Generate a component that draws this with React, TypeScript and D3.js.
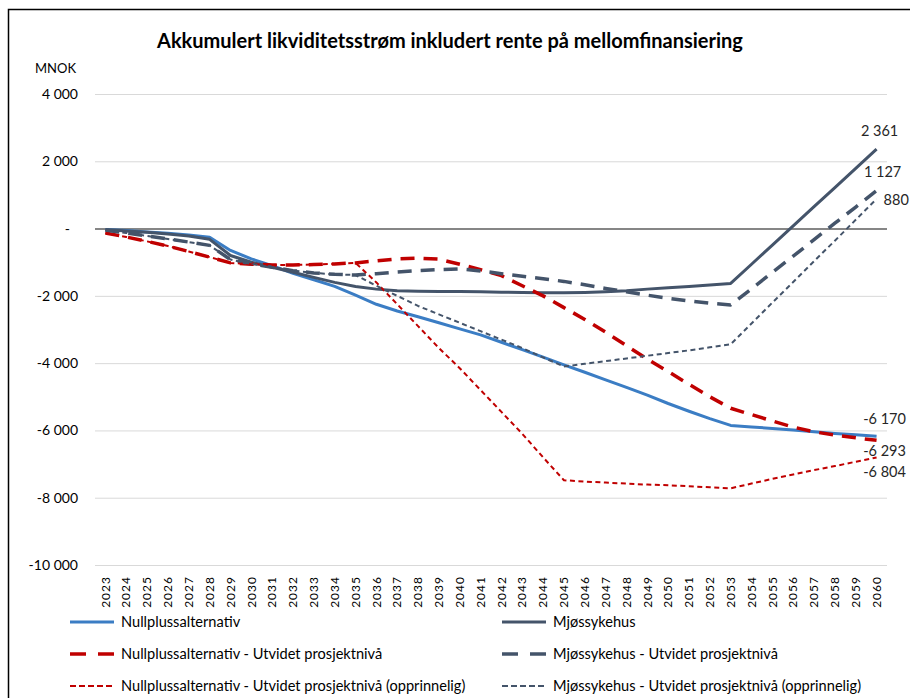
import React, { useEffect, useRef } from "react";
import * as d3 from "d3";

const years = [
  "2023", "2024", "2025", "2026", "2027", "2028", "2029", "2030", "2031", "2032",
  "2033", "2034", "2035", "2036", "2037", "2038", "2039", "2040", "2041", "2042",
  "2043", "2044", "2045", "2046", "2047", "2048", "2049", "2050", "2051", "2052",
  "2053", "2054", "2055", "2056", "2057", "2058", "2059", "2060",
];

// MNOK
const nullpluss = [
  -30, -60, -100, -140, -190, -260, -650, -900, -1100, -1330,
  -1520, -1720, -1980, -2250, -2450, -2620, -2800, -2980, -3160, -3380,
  -3600, -3820, -4050, -4270, -4500, -4720, -4950, -5200, -5430, -5650,
  -5850, -5900, -5940, -5990, -6040, -6090, -6130, -6170,
];
const mjos = [
  -30, -70, -110, -160, -220, -320, -800, -1000, -1150, -1300,
  -1450, -1600, -1720, -1800, -1850, -1860, -1870, -1870, -1880, -1890,
  -1900, -1910, -1910, -1900, -1880, -1850, -1800, -1760, -1720, -1680,
  -1630, -1060, -490, 80, 650, 1220, 1790, 2361,
];
const nullplussUtv = [
  -130, -250, -380, -520, -680, -850, -1020, -1060, -1080, -1080,
  -1070, -1050, -1020, -960, -900, -880, -910, -1060, -1220, -1400,
  -1700, -2000, -2350, -2700, -3080, -3480, -3880, -4250, -4630, -5000,
  -5340, -5530, -5720, -5900, -6040, -6140, -6220, -6293,
];
const mjosUtv = [
  -50, -130, -220, -310, -400, -500, -920, -1050, -1150, -1250,
  -1320, -1360, -1380, -1340, -1290, -1250, -1220, -1200, -1260, -1340,
  -1420, -1490, -1570, -1670, -1780, -1880, -1980, -2070, -2150, -2220,
  -2270, -1790, -1300, -820, -330, 160, 640, 1127,
];
const nullplussOpp = [
  -130, -250, -380, -520, -680, -850, -1020, -1060, -1080, -1080,
  -1070, -1050, -1020, -1600, -2250, -2900, -3550, -4150, -4800, -5450,
  -6100, -6800, -7480, -7520, -7550, -7580, -7610, -7630, -7660, -7690,
  -7720, -7580, -7440, -7310, -7180, -7060, -6930, -6804,
];
const mjosOpp = [
  -50, -130, -220, -310, -400, -500, -920, -1050, -1150, -1250,
  -1320, -1360, -1380, -1700, -2000, -2300, -2550, -2800, -3050, -3300,
  -3550, -3830, -4100, -4020, -3940, -3860, -3780, -3700, -3620, -3530,
  -3440, -2820, -2200, -1590, -970, -360, 260, 880,
];

const yTicks = [4000, 2000, 0, -2000, -4000, -6000, -8000, -10000];

const App = () => {
  const svgRef = useRef<SVGSVGElement>(null);

  useEffect(() => {
    const svg = d3.select(svgRef.current);
    svg.selectAll("*").remove();

    const font = "Lato, 'Open Sans', sans-serif";
    const nb = d3.formatLocale({
      decimal: ",",
      thousands: " ",
      grouping: [3],
      currency: ["", ""],
      minus: "-",
    });
    const fmt = nb.format(",.0f");

    const left = 95;
    const right = 887;
    const x = d3.scaleBand().domain(years).range([left, right]);
    const cx = (yr: string) => (x(yr) as number) + x.bandwidth() / 2;
    const y = d3.scaleLinear().domain([-10000, 4000]).range([565, 94]);

    const series = [
      { name: "Nullplussalternativ", values: nullpluss, color: "#3B7DC4", width: 3, dash: null, lg: null, lab: [8, -12, "middle"] },
      { name: "Mjøssykehus", values: mjos, color: "#44546A", width: 3, dash: null, lg: null, lab: [3, -13, "middle"] },
      { name: "Nullplussalternativ - Utvidet prosjektnivå", values: nullplussUtv, color: "#C00000", width: 3.5, dash: "14 9", lg: "16 12", lab: [8, 16, "middle"] },
      { name: "Mjøssykehus - Utvidet prosjektnivå", values: mjosUtv, color: "#44546A", width: 3.5, dash: "14 9", lg: "16 12", lab: [6, -14, "middle"] },
      { name: "Nullplussalternativ - Utvidet prosjektnivå (opprinnelig)", values: nullplussOpp, color: "#C00000", width: 2, dash: "5 3.5", lg: "6 3", lab: [8, 20, "middle"] },
      { name: "Mjøssykehus - Utvidet prosjektnivå (opprinnelig)", values: mjosOpp, color: "#44546A", width: 2, dash: "5 3.5", lg: "6 3", lab: [7, 6, "start"] },
    ];

    // chart frame
    svg
      .append("rect")
      .attr("x", 8.5)
      .attr("y", 9.5)
      .attr("width", 1000)
      .attr("height", 1000)
      .attr("fill", "none")
      .attr("stroke", "#000")
      .attr("stroke-width", 1.5);

    svg
      .append("text")
      .attr("x", 450)
      .attr("y", 48)
      .attr("text-anchor", "middle")
      .attr("font-family", font)
      .attr("font-weight", "bold")
      .attr("font-size", 20)
      .attr("fill", "#000")
      .text("Akkumulert likviditetsstrøm inkludert rente på mellomfinansiering");

    svg
      .append("text")
      .attr("x", 35)
      .attr("y", 73)
      .attr("font-family", font)
      .attr("font-size", 13)
      .attr("fill", "#000")
      .text("MNOK");

    // y axis + grid
    const yAxis = d3
      .axisLeft(y)
      .tickValues(yTicks)
      .tickSize(-(right - left))
      .tickPadding(17)
      .tickFormat((d: any) => (d === 0 ? "-" : fmt(d)));
    const gy = svg.append("g").attr("transform", `translate(${left},0)`).call(yAxis);
    gy.select(".domain").remove();
    gy.selectAll(".tick line")
      .attr("stroke", (d: any) => (d === 0 ? "#868686" : "#d9d9d9"))
      .attr("stroke-width", (d: any) => (d === 0 ? 2 : 1));
    gy.selectAll(".tick text")
      .attr("font-family", font)
      .attr("font-size", 14)
      .attr("fill", "#000")
      .attr("dx", (d: any) => (d === 0 ? -8 : 0));

    // x axis labels
    const gx = svg
      .append("g")
      .attr("transform", "translate(0,565)")
      .call(d3.axisBottom(x).tickSize(0).tickPadding(0));
    gx.select(".domain").remove();
    gx.selectAll(".tick text")
      .attr("transform", "rotate(-90)")
      .attr("text-anchor", "end")
      .attr("x", -11)
      .attr("y", 0)
      .attr("dy", "0.35em")
      .attr("font-family", font)
      .attr("font-size", 12)
      .attr("letter-spacing", 1)
      .attr("fill", "#000");

    const line = d3
      .line<number>()
      .x((d, i) => cx(years[i]))
      .y((d) => y(d));

    svg
      .append("g")
      .selectAll("path")
      .data(series)
      .join("path")
      .attr("d", (d) => line(d.values))
      .attr("fill", "none")
      .attr("stroke", (d) => d.color)
      .attr("stroke-width", (d) => d.width)
      .attr("stroke-dasharray", (d) => d.dash)
      .attr("stroke-linejoin", "round");

    // end value labels
    const last = years[years.length - 1];
    svg
      .append("g")
      .selectAll("text")
      .data(series)
      .join("text")
      .attr("x", (d) => cx(last) + (d.lab[0] as number))
      .attr("y", (d) => y(d.values[d.values.length - 1]) + (d.lab[1] as number))
      .attr("text-anchor", (d) => d.lab[2] as string)
      .attr("font-family", font)
      .attr("font-size", 14.5)
      .attr("fill", "#262626")
      .text((d) => fmt(d.values[d.values.length - 1]));

    // legend
    const legend = svg
      .append("g")
      .selectAll("g")
      .data(series)
      .join("g")
      .attr("transform", (d, i) => `translate(${i % 2 === 0 ? 70 : 502},${622 + Math.floor(i / 2) * 32})`);
    legend
      .append("line")
      .attr("x1", 0)
      .attr("x2", 44)
      .attr("stroke", (d) => d.color)
      .attr("stroke-width", (d) => d.width)
      .attr("stroke-dasharray", (d) => d.lg);
    legend
      .append("text")
      .attr("x", 51)
      .attr("dy", "0.35em")
      .attr("font-family", font)
      .attr("font-size", 14.6)
      .attr("fill", "#000")
      .text((d) => d.name);
  }, []);

  return (
    <svg
      ref={svgRef}
      width={910}
      height={698}
      style={{ position: "absolute", left: 0, top: 0, background: "#fff" }}
    />
  );
};

export default App;
